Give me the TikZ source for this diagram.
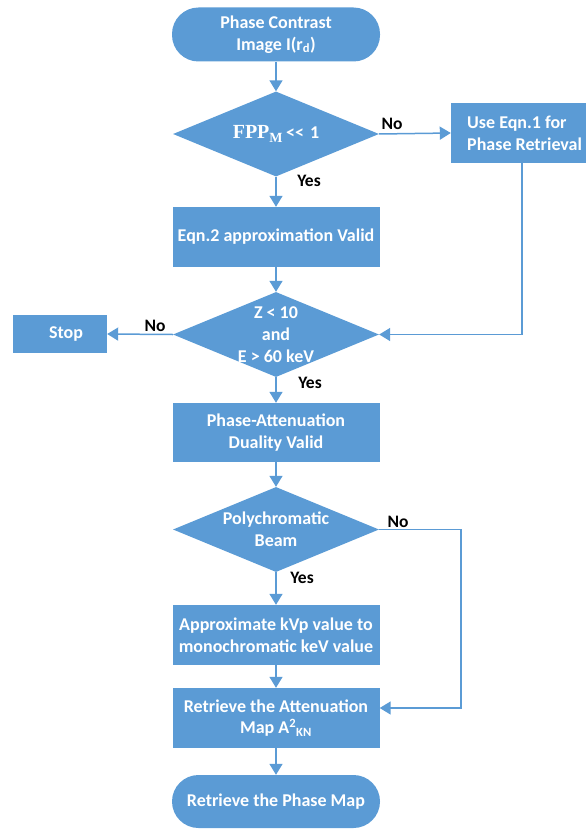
\documentclass[tikz,border=0pt]{standalone}
\usepackage{fontspec}
\setmainfont{Carlito}
\newfontfamily\serifb{Liberation Serif}
\usetikzlibrary{arrows.meta,shapes.geometric}
\definecolor{fc}{HTML}{5B9BD5}
\tikzset{
  box/.style={fill=fc, text=white, font=\bfseries\fontsize{18}{21.5}\selectfont, align=center, inner sep=0pt, minimum width=207pt, minimum height=60pt},
  term/.style={box, rounded corners=26.5pt, minimum width=208pt, minimum height=54pt},
  dia/.style={diamond, fill=fc, inner sep=0pt, minimum width=206pt, minimum height=85pt},
  dtext/.style={text=white, font=\bfseries\fontsize{18}{22}\selectfont, align=center, inner sep=0pt},
  conn/.style={draw=fc, line width=1.5pt, -{Triangle[width=13pt,length=11pt]}},
  lab/.style={font=\bfseries\fontsize{17.5}{20}\selectfont, text=black, inner sep=0pt}
}
\begin{document}
\begin{tikzpicture}[x=1pt,y=-1pt]
\useasboundingbox (0,0) rectangle (587,829);
\node[term] (start) at (276,34.5) {Phase Contrast\\Image I(r\textsubscript{d})};
\node[dia] (d1) at (276,134) {};
\node[dtext] (d1t) at (d1.center) {{\serifb\fontsize{20}{22}\selectfont FPP\textsubscript{M}}\,<{}<\,\,1};
\node[box, minimum width=135pt] (eq1) at (518.5,133) {};
\node[dtext, anchor=west, align=left] (eq1t) at (467,133) {Use Eqn.1 for\\Phase Retrieval};
\node[box] (eq2) at (276,237) {Eqn.2 approximation Valid};
\node[dia] (d2) at (276,334.5) {};
\node[dtext] (d2t) at (d2.center) {Z < 10\\and\\E > 60 keV};
\node[box, minimum width=94pt, minimum height=38pt] (stop) at (60,334) {};
\node[dtext] (stopt) at (66,334) {Stop};
\node[box, minimum height=59pt] (pa) at (276,432.5) {Phase-Attenuation\\Duality Valid};
\node[dia] (d3) at (276,529.5) {};
\node[dtext] (d3t) at (d3.center) {Polychromatic\\Beam};
\node[box] (ap) at (276,635) {Approximate kVp value to\\monochromatic keV value};
\node[box] (ret) at (276,718) {Retrieve the Attenuation\\Map A\textsuperscript{2}\textsubscript{KN}};
\node[term, minimum height=53pt] (end) at (276,801.5) {Retrieve the Phase Map};
\coordinate (c1) at (522,334.5);
\coordinate (c2) at (461,529.5);
\coordinate (c3) at (461,708);
\draw[conn] (start) -- (d1);
\draw[conn] (d1) -- (eq2);
\draw[conn] (d1.east) -- (eq1.west);
\draw[conn] (c1 |- eq1.south) -- (c1) -- (d2.east);
\draw[conn] (eq2) -- (d2);
\draw[conn] (d2.west) -- (stop.east);
\draw[conn] (d2) -- (pa);
\draw[conn] (pa) -- (d3);
\draw[conn] (d3) -- (ap);
\draw[conn] (d3.east) -- (c2) -- (c3) -- (c3 -| ret.east);
\draw[conn] (ap) -- (ret);
\draw[conn] (ret) -- (end);
\node[lab] (l1) at (392,124) {No};
\node[lab] (l2) at (309,181) {Yes};
\node[lab] (l3) at (155,326) {No};
\node[lab] (l4) at (310,383) {Yes};
\node[lab] (l5) at (398,522) {No};
\node[lab] (l6) at (302,578) {Yes};
\end{tikzpicture}
\end{document}
